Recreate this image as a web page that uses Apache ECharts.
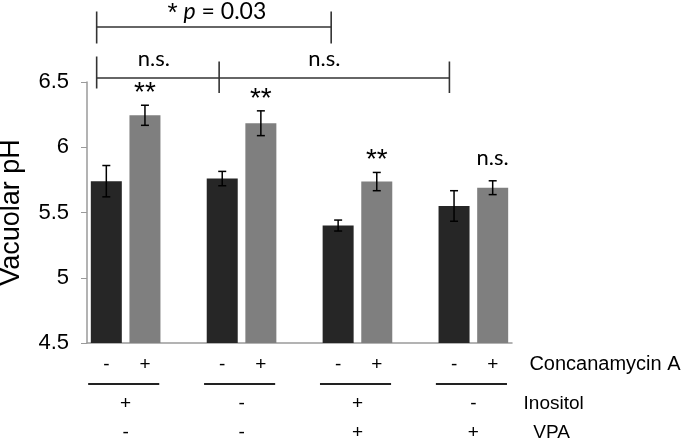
<!DOCTYPE html>
<html><head><meta charset="utf-8">
<script src="https://cdn.jsdelivr.net/npm/echarts@6/dist/echarts.min.js"></script>
<style>html,body{margin:0;padding:0;background:#fff}#c{width:693px;height:441px}</style>
</head><body><div id="c"></div>
<script>
// 11 slots: pairs of bars separated by empty slots
const slotLabels = ['-', '+', '', '-', '+', '', '-', '+', '', '-', '+'];
const darkSlots = [0, 3, 6, 9];
const graySlots = [1, 4, 7, 10];
const darkMeans = [5.74, 5.76, 5.40, 5.55];
const darkErrs  = [0.12, 0.055, 0.042, 0.117];
const grayMeans = [6.245, 6.184, 5.737, 5.69];
const grayErrs  = [0.077, 0.095, 0.07, 0.053];
const graySig = ['**', '**', '**', 'n.s.'];
const yTicks = [4.5, 5, 5.5, 6, 6.5];
const inositolRow = ['+', '-', '+', '-'];
const vpaRow = ['-', '-', '+', '+'];

const dark = slotLabels.map(() => null);
const gray = slotLabels.map(() => null);
darkSlots.forEach((s, i) => dark[s] = darkMeans[i]);
graySlots.forEach((s, i) => gray[s] = grayMeans[i]);
const errData = [];
darkSlots.forEach((s, i) => errData.push([s, darkMeans[i] - darkErrs[i], darkMeans[i] + darkErrs[i], '']));
graySlots.forEach((s, i) => errData.push([s, grayMeans[i] - grayErrs[i], grayMeans[i] + grayErrs[i], graySig[i]]));

const chart = echarts.init(document.getElementById('c'));
const AX = '#9a9a9a';
chart.setOption({
  animation: false,
  grid: {left: 87, right: 181, top: 82, bottom: 98, containLabel: false, outerBoundsMode: 'none'},
  xAxis: {
    type: 'category', data: slotLabels,
    axisLine: {lineStyle: {color: AX, width: 1.5}},
    axisTick: {show: false},
    axisLabel: {color: '#000', fontSize: 19, fontFamily: 'Liberation Sans', margin: 12, interval: 0}
  },
  yAxis: {
    type: 'value', min: 4.5, max: 6.5, interval: 0.5,
    name: 'Vacuolar pH', nameLocation: 'middle', nameGap: 62, nameRotate: 90, nameMoveOverlap: false,
    nameTextStyle: {color: '#000', fontSize: 27, fontFamily: 'Liberation Sans'},
    axisLine: {show: true, lineStyle: {color: AX, width: 1.5}},
    axisTick: {show: true, length: 6, lineStyle: {color: AX}},
    splitLine: {show: false},
    axisLabel: {color: '#000', fontSize: 22, fontFamily: 'Liberation Sans', margin: 18,
      formatter: v => yTicks.includes(v) ? String(v) : ''}
  },
  series: [
    {type: 'bar', data: dark, barWidth: 31, barGap: '-100%', itemStyle: {color: '#262626'}},
    {type: 'bar', data: gray, barWidth: 31, barGap: '-100%', itemStyle: {color: '#7f7f7f'}},
    {type: 'custom', data: errData, z: 10,
      renderItem: function (params, api) {
        const x = api.value(0);
        const lo = api.coord([x, api.value(1)]);
        const hi = api.coord([x, api.value(2)]);
        const c = 4;
        const st = {stroke: '#000', lineWidth: 1.5};
        const children = [
          {type: 'line', shape: {x1: lo[0], y1: lo[1], x2: hi[0], y2: hi[1]}, style: st},
          {type: 'line', shape: {x1: lo[0] - c, y1: lo[1], x2: lo[0] + c, y2: lo[1]}, style: st},
          {type: 'line', shape: {x1: hi[0] - c, y1: hi[1], x2: hi[0] + c, y2: hi[1]}, style: st}
        ];
        const sig = api.value(3);
        if (sig) {
          const isStar = sig === '**';
          children.push({type: 'text', style: {text: sig, x: hi[0], y: hi[1] - (isStar ? -2 : 12),
            align: 'center', verticalAlign: 'bottom', fill: '#000',
            font: (isStar ? '28px "Liberation Sans"' : '22px Lato')}});
        }
        return {type: 'group', children: children};
      }}
  ]
});

function drawAnno() {
  const p0 = chart.convertToPixel({xAxisIndex: 0}, 0);
  const p1 = chart.convertToPixel({xAxisIndex: 0}, 1);
  const w = p1 - p0;
  const px = s => p0 + s * w;
  const g = [];
  const ls = {stroke: '#333', lineWidth: 1.6};
  const line = (x1, y1, x2, y2, st) => g.push({type: 'line', shape: {x1, y1, x2, y2}, style: st || ls, silent: true});
  const text = (t, x, y, font, align, extra) => g.push({type: 'text', style: Object.assign({text: t, x, y, font, fill: '#000', align: align || 'center', verticalAlign: 'middle'}, extra || {}), silent: true});
  // top bracket
  const a = px(-0.25), b = px(5.82);
  line(a, 27, b, 27);
  line(a, 11.5, a, 43.5);
  line(b, 11.5, b, 43.5);
  g.push({type: 'text', silent: true, style: {
    text: '{s|*} {i|p} = 0.03', x: (a + b) / 2 + 3, y: 12, align: 'center', verticalAlign: 'middle',
    font: '23px Lato', fill: '#000',
    rich: {i: {fontStyle: 'italic', fontFamily: 'Lato', fontSize: 23},
           s: {fontFamily: 'Liberation Sans', fontSize: 26, verticalAlign: 'top', lineHeight: 22}}}});
  // second bracket
  const c = px(2.92), d = px(8.88);
  line(a, 78, d, 78);
  line(a, 56.5, a, 88.5);
  line(c, 61.5, c, 93);
  line(d, 61.5, d, 93);
  text('n.s.', (a + c) / 2 - 4, 59, '22px Lato');
  text('n.s.', (c + d) / 2 - 10, 59, '22px Lato');
  // bottom table
  for (let i = 0; i < 4; i++) {
    const s0 = darkSlots[i], s1 = graySlots[i];
    line(px(s0) - 0.47 * w, 384, px(s1) + 0.37 * w, 384, {stroke: '#222', lineWidth: 1.8});
    const cx = (px(s0) + px(s1)) / 2;
    text(inositolRow[i], cx, 404, '19px "Liberation Sans"');
    text(vpaRow[i], cx, 433, '19px "Liberation Sans"');
  }
  text('Concanamycin A', px(10) + 0.95 * w, 364, '20px "Liberation Sans"', 'left');
  text('Inositol', px(10) + 0.8 * w, 404, '19px "Liberation Sans"', 'left');
  text('VPA', px(10) + 1.05 * w, 433, '19px "Liberation Sans"', 'left');
  chart.setOption({graphic: {elements: g}});
}
drawAnno();
</script></body></html>
